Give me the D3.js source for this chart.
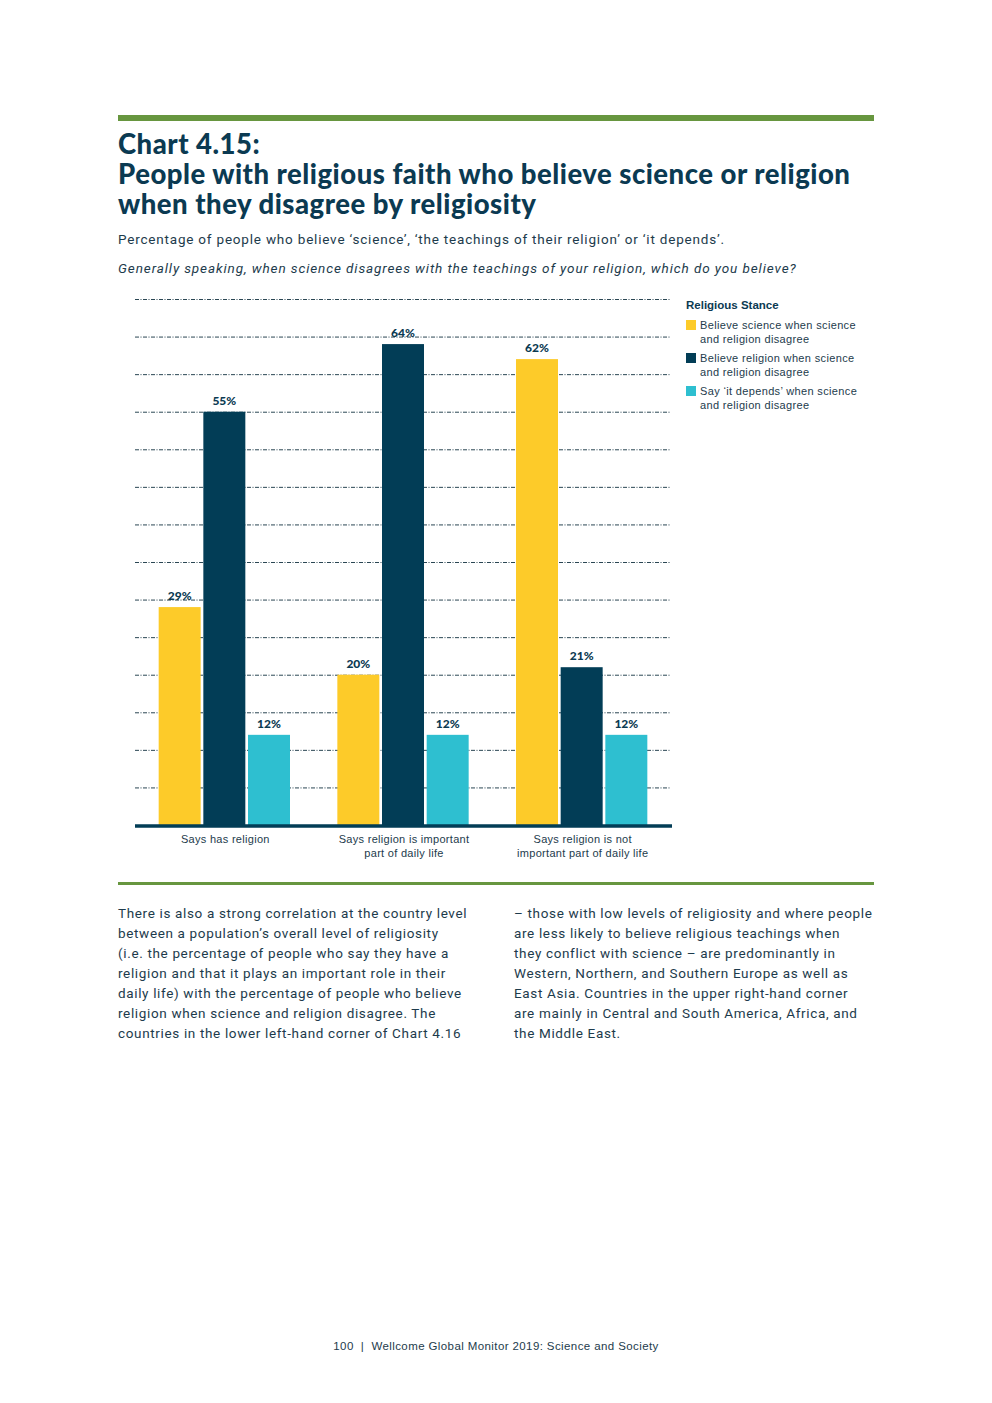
<!DOCTYPE html>
<html>
<head>
<meta charset="utf-8">
<script src="https://cdn.jsdelivr.net/npm/d3@7"></script>
<style>
  body { margin: 0; background: #fff; }
  svg { display: block; }
</style>
</head>
<body>
<svg id="page" width="992" height="1403"></svg>
<script>
// data
var categories = ['Says has religion', 'Says religion is important part of daily life', 'Says religion is not important part of daily life'];
var categoryLines = [['Says has religion'], ['Says religion is important', 'part of daily life'], ['Says religion is not', 'important part of daily life']];
var seriesNames = ['science', 'religion', 'depends'];
var seriesLabels = [
    ['Believe science when science', 'and religion disagree'],
    ['Believe religion when science', 'and religion disagree'],
    ['Say \u2018it depends\u2019 when science', 'and religion disagree']
];
var scienceValues = [29, 20, 62];
var religionValues = [55, 64, 21];
var dependsValues = [12, 12, 12];
var gridTicks = [5, 10, 15, 20, 25, 30, 35, 40, 45, 50, 55, 60, 65, 70];

var colors = ['#fdcb29', '#023d56', '#2ebfd0'];
var navy = '#0b3a52';
var textCol = '#1d3b4c';

var svg = d3.select('#page');

// header rule
svg.append('rect').attr('x', 118).attr('y', 115).attr('width', 756).attr('height', 6).attr('fill', '#67963f');

var title = svg.append('g').attr('fill', navy)
    .style('font-family', 'Lato, sans-serif').style('font-weight', 900).style('font-size', '27.5px')
    .style('letter-spacing', '0.5px');
title.append('text').attr('x', 118).attr('y', 154).text('Chart 4.15:');
title.append('text').attr('x', 118).attr('y', 184).text('People with religious faith who believe science or religion');
title.append('text').attr('x', 118).attr('y', 214).text('when they disagree by religiosity');

svg.append('text').attr('x', 118).attr('y', 244).attr('fill', textCol)
    .style('font-family', 'Roboto, sans-serif').style('font-size', '13.5px').style('letter-spacing', '0.8px')
    .text('Percentage of people who believe \u2018science\u2019, \u2018the teachings of their religion\u2019 or \u2018it depends\u2019.');
svg.append('text').attr('x', 118).attr('y', 273).attr('fill', textCol)
    .style('font-family', 'Roboto, sans-serif').style('font-size', '13.5px').style('font-style', 'italic').style('letter-spacing', '0.9px')
    .text('Generally speaking, when science disagrees with the teachings of your religion, which do you believe?');

// chart
var plot = {left: 135, right: 671, top: 299, bottom: 825};
var y = d3.scaleLinear().domain([0, 70]).range([plot.bottom, plot.top]);
var x0 = d3.scaleBand().domain(categories).range([plot.left, plot.right]).padding(0);
var x1 = d3.scaleBand().domain(seriesNames).range([0, x0.bandwidth()]).paddingInner(0.06).paddingOuter(0.53);

var rows = categories.map(function(c, i) {
    return {cat: c, values: [scienceValues[i], religionValues[i], dependsValues[i]]};
});

var chart = svg.append('g');

// value labels (under the grid, like the original)
var labels = chart.append('g').attr('fill', navy).attr('text-anchor', 'middle')
    .style('font-family', 'Lato, sans-serif').style('font-weight', 900).style('font-size', '12px');
rows.forEach(function(r) {
    labels.selectAll(null).data(r.values).enter().append('text')
        .attr('x', function(d, i) { return x0(r.cat) + x1(seriesNames[i]) + x1.bandwidth() / 2; })
        .attr('y', function(d) { return y(d) - 7; })
        .text(function(d) { return d + '%'; });
});

// grid
var yAxis = d3.axisLeft(y).tickValues(gridTicks).tickSize(-(plot.right - plot.left)).tickFormat('');
var grid = chart.append('g').attr('transform', 'translate(' + plot.left + ',0)').call(yAxis);
grid.select('.domain').remove();
grid.selectAll('.tick line').attr('stroke', '#123140').attr('stroke-width', 0.9).attr('stroke-dasharray', '4,1.5,1,1.5');

// bars
rows.forEach(function(r) {
    chart.append('g').selectAll('rect').data(r.values).enter().append('rect')
        .attr('x', function(d, i) { return x0(r.cat) + x1(seriesNames[i]); })
        .attr('y', function(d) { return y(d); })
        .attr('width', x1.bandwidth())
        .attr('height', function(d) { return y(0) - y(d); })
        .attr('fill', function(d, i) { return colors[i]; });
});

// baseline
chart.append('line').attr('x1', plot.left).attr('x2', plot.right + 1).attr('y1', y(0) + 1).attr('y2', y(0) + 1)
    .attr('stroke', '#023d56').attr('stroke-width', 3.5);

// category labels
var xAxis = chart.append('g').attr('fill', textCol).attr('text-anchor', 'middle')
    .style('font-family', '"Liberation Sans", Arial, sans-serif').style('font-size', '11px').style('letter-spacing', '0.3px');
categories.forEach(function(c, i) {
    var cx = x0(c) + x0.bandwidth() / 2 + 1;
    var t = xAxis.append('text').attr('x', cx).attr('y', 843);
    categoryLines[i].forEach(function(line, j) {
        t.append('tspan').attr('x', cx).attr('dy', j === 0 ? 0 : 14).text(line);
    });
});

// legend
var legend = svg.append('g').style('font-family', '"Liberation Sans", Arial, sans-serif').attr('fill', textCol);
legend.append('text').attr('x', 686).attr('y', 309).style('font-weight', 'bold').style('font-size', '11.5px').attr('fill', navy).text('Religious Stance');
seriesLabels.forEach(function(lbl, i) {
    var gy = 320 + i * 33;
    legend.append('rect').attr('x', 686).attr('y', gy).attr('width', 10).attr('height', 10).attr('fill', colors[i]);
    var t = legend.append('text').style('font-size', '11px').style('letter-spacing', '0.35px').attr('y', gy + 9);
    lbl.forEach(function(line, j) {
        t.append('tspan').attr('x', 700).attr('dy', j === 0 ? 0 : 14).text(line);
    });
});

// bottom rule
svg.append('rect').attr('x', 118).attr('y', 882).attr('width', 756).attr('height', 3).attr('fill', '#67963f');

// body text
var leftCol = [
    'There is also a strong correlation at the country level',
    'between a population\u2019s overall level of religiosity',
    '(i.e. the percentage of people who say they have a',
    'religion and that it plays an important role in their',
    'daily life) with the percentage of people who believe',
    'religion when science and religion disagree. The',
    'countries in the lower left-hand corner of Chart 4.16'
];
var rightCol = [
    '\u2013 those with low levels of religiosity and where people',
    'are less likely to believe religious teachings when',
    'they conflict with science \u2013 are predominantly in',
    'Western, Northern, and Southern Europe as well as',
    'East Asia. Countries in the upper right-hand corner',
    'are mainly in Central and South America, Africa, and',
    'the Middle East.'
];
var body = svg.append('g').attr('fill', textCol)
    .style('font-family', 'Roboto, sans-serif').style('font-size', '13.5px').style('letter-spacing', '0.65px');
[[118, leftCol], [514, rightCol]].forEach(function(col) {
    body.selectAll(null).data(col[1]).enter().append('text')
        .attr('x', col[0]).attr('y', function(d, i) { return 918 + i * 20; })
        .text(function(d) { return d; });
});

// footer
var foot = svg.append('text').attr('x', 496).attr('y', 1350).attr('text-anchor', 'middle').attr('fill', textCol)
    .style('font-family', '"Liberation Sans", Arial, sans-serif').style('font-size', '11.5px').style('letter-spacing', '0.4px')
    .attr('xml:space', 'preserve')
    .text('100  |  Wellcome Global Monitor 2019: Science and Society');
</script>
</body>
</html>
